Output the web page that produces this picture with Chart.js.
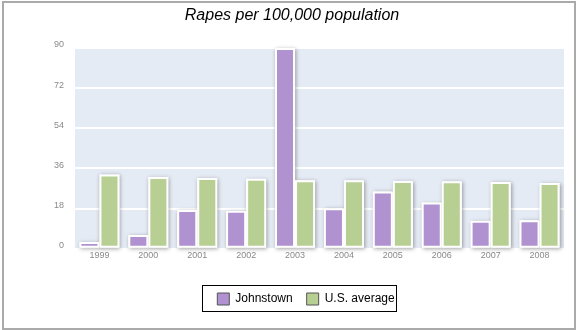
<!DOCTYPE html>
<html>
<head>
<meta charset="utf-8">
<script src="https://cdn.jsdelivr.net/npm/chart.js@4/dist/chart.umd.min.js"></script>
<style>
  body { margin: 0; background: #fff; }
</style>
</head>
<body>
<canvas id="myChart" width="577" height="330"></canvas>
<script>
const years = ['1999','2000','2001','2002','2003','2004','2005','2006','2007','2008'];
const johnstown = [3.0, 6.1, 17.4, 17.0, 90, 18.1, 25.7, 20.7, 12.5, 12.8];
const usAverage = [33.3, 32.2, 31.7, 31.4, 30.7, 30.7, 30.4, 30.2, 29.9, 29.5];
const yTicks = [0, 18, 36, 54, 72, 90];

const FONT = '"Liberation Sans", Arial, sans-serif';

const frame = {
    id: 'frame',
    afterLayout(chart) {
        // nudge title and legend to where they sit in the original
        const t = chart.titleBlock, l = chart.legend;
        t.left += 10; t.right += 10;
        l.left += 24; l.right += 24;
    },
    beforeDraw(chart) {
        const {ctx, chartArea: {left, top, width, height}} = chart;
        ctx.save();
        ctx.fillStyle = '#e5ebf4';
        ctx.fillRect(left, top, width, height);
        ctx.restore();
    },
    beforeDatasetsDraw(chart) {
        // soft shadow behind every bar
        const ctx = chart.ctx;
        ctx.save();
        ctx.shadowColor = 'rgba(0,0,0,0.35)';
        ctx.shadowBlur = 4;
        ctx.shadowOffsetX = 1;
        ctx.shadowOffsetY = 1;
        ctx.fillStyle = '#ffffff';
        chart.data.datasets.forEach((ds, i) => {
            chart.getDatasetMeta(i).data.forEach(el => {
                const {x, y, base, width} = el.getProps(['x', 'y', 'base', 'width'], true);
                ctx.fillRect(x - width / 2, Math.min(y, base), width, Math.abs(base - y));
            });
        });
        ctx.restore();
    },
    afterDraw(chart) {
        const ctx = chart.ctx;
        ctx.save();
        // legend box
        const boxes = chart.legend.legendHitBoxes;
        if (boxes && boxes.length) {
            const first = boxes[0], last = boxes[boxes.length - 1];
            ctx.strokeStyle = '#000';
            ctx.lineWidth = 1;
            ctx.strokeRect(Math.round(first.left - 15) + 0.5, Math.round(first.top - 8) + 0.5,
                Math.round(last.left + last.width - first.left + 17), 26);
        }
        // outer border
        ctx.strokeStyle = '#aaaaaa';
        ctx.lineWidth = 2;
        ctx.strokeRect(3, 2, 572, 327);
        ctx.restore();
    }
};

const config = {
    type: 'bar',
    data: {
        labels: years,
        datasets: [
            {
                label: 'Johnstown',
                data: johnstown,
                backgroundColor: '#b092d0',
                borderColor: '#ffffff',
                borderWidth: 2,
                borderSkipped: false,
                categoryPercentage: 0.82,
                barPercentage: 1
            },
            {
                label: 'U.S. average',
                data: usAverage,
                backgroundColor: '#b8cf94',
                borderColor: '#ffffff',
                borderWidth: 2,
                borderSkipped: false,
                categoryPercentage: 0.82,
                barPercentage: 1
            }
        ]
    },
    options: {
        responsive: false,
        animation: false,
        layout: {
            padding: {left: 0, right: 13, top: 0, bottom: 15}
        },
        scales: {
            y: {
                min: 0,
                max: 90,
                afterBuildTicks(scale) {
                    scale.ticks = yTicks.map(v => ({value: v}));
                },
                afterFit(scale) {
                    scale.width = 75;
                },
                grid: {
                    color: '#ffffff',
                    lineWidth: 2,
                    drawTicks: false
                },
                border: { display: false },
                ticks: {
                    color: '#8a8a8a',
                    padding: 11,
                    labelOffset: -3,
                    font: { family: FONT, size: 9 }
                }
            },
            x: {
                afterFit(scale) {
                    scale.height = 30.3;
                },
                grid: { display: false, drawTicks: false },
                border: { display: false },
                ticks: {
                    color: '#8a8a8a',
                    padding: 1,
                    font: { family: FONT, size: 9 }
                }
            }
        },
        plugins: {
            title: {
                display: true,
                text: 'Rapes per 100,000 population',
                color: '#000',
                padding: { top: 6, bottom: 22.8 },
                font: { family: FONT, size: 16, style: 'italic', weight: 'normal', lineHeight: 1.2 }
            },
            legend: {
                position: 'bottom',
                labels: {
                    color: '#000',
                    boxWidth: 12,
                    boxHeight: 12,
                    padding: 14,
                    font: { family: FONT, size: 12 },
                    generateLabels(chart) {
                        return chart.data.datasets.map((ds, i) => ({
                            text: ds.label,
                            fillStyle: ds.backgroundColor,
                            strokeStyle: '#555555',
                            lineWidth: 1,
                            datasetIndex: i
                        }));
                    }
                }
            },
            tooltip: { enabled: false }
        }
    },
    plugins: [frame]
};

const myChart = new Chart(document.getElementById('myChart'), config);
</script>
</body>
</html>
